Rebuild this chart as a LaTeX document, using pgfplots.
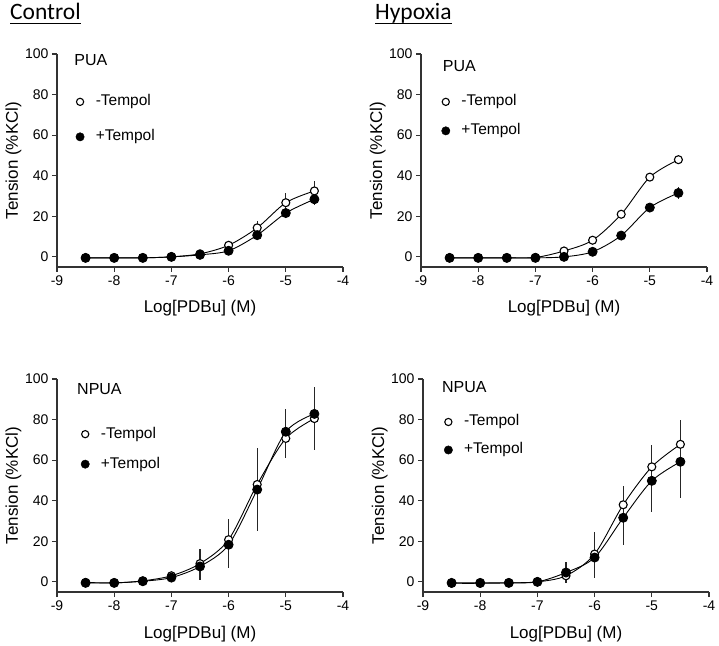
\documentclass[border=0pt]{standalone}
\usepackage{pgfplots}
\pgfplotsset{compat=1.18}
\usepackage{pgfplotstable}
\usepackage{fontspec}
\setmainfont{Liberation Sans}
\newfontfamily\titlefont{Carlito}

\pgfplotstableread{
x y e
-8.5 -0.5 0
-8 -0.5 0
-7.5 -0.5 0
-7 0 0
-6.5 1.5 0.8
-6 5.7 1.5
-5.5 14.3 3.5
-5 26.7 5
-4.5 32.5 5
}\cpo
\pgfplotstableread{
x y e
-8.5 -0.5 0
-8 -0.5 0
-7.5 -0.5 0
-7 0 0
-6.5 1.0 0.8
-6 3.0 1
-5.5 10.7 1.5
-5 21.6 2
-4.5 28.4 3
}\cpf
\pgfplotstableread{
x y e
-8.5 -0.5 0
-8 -0.5 0
-7.5 -0.5 0
-7 -0.3 0
-6.5 2.9 0.8
-6 8.2 1
-5.5 21.0 1.5
-5 39.3 1.5
-4.5 47.9 1.5
}\hpo
\pgfplotstableread{
x y e
-8.5 -0.5 0
-8 -0.5 0
-7.5 -0.5 0
-7 -0.5 0
-6.5 0 0.5
-6 2.5 0.8
-5.5 10.5 1.2
-5 24.3 1.5
-4.5 31.5 3
}\hpf
\pgfplotstableread{
x y e
-8.5 -0.3 0
-8 -0.5 0
-7.5 0.5 0.5
-7 3 1
-6.5 9 7
-6 20.8 10
-5.5 48 18
-5 70.7 9.7
-4.5 80.5 15.5
}\cno
\pgfplotstableread{
x y e
-8.5 -0.5 0
-8 -0.5 0
-7.5 0.3 0.5
-7 2.1 1
-6.5 7.6 6.8
-6 18.3 11.5
-5.5 45.5 20.5
-5 74 11
-4.5 82.8 13.5
}\cnf
\pgfplotstableread{
x y e
-8.5 -0.7 0
-8 -0.7 0
-7.5 -0.5 0
-7 0 0.5
-6.5 3 3
-6 13.7 11
-5.5 38 9.3
-5 56.7 10.6
-4.5 67.8 12
}\hno
\pgfplotstableread{
x y e
-8.5 -0.5 0
-8 -0.5 0
-7.5 -0.5 0
-7 0 0.5
-6.5 4.6 5
-6 12 10
-5.5 31.6 13.3
-5 49.8 15.6
-4.5 59.2 17.7
}\hnf

\pgfplotsset{
  panel/.style={
    scale only axis, width=286pt, height=213pt,
    xmin=-9, xmax=-4, ymin=-5, ymax=100,
    axis lines*=left,
    axis line style={-, line width=1.1pt, black!80},
    tick align=outside, major tick length=5pt,
    tick style={line width=1.1pt, black!80},
    xtick={-9,-8,-7,-6,-5,-4}, ytick={0,20,40,60,80,100},
    ticklabel style={font=\fontsize{14}{14}\selectfont},
    /pgf/number format/assume math mode=true,
    xlabel={Log[PDBu] (M)}, ylabel={Tension (\%KCl)},
    label style={font=\fontsize{17}{17}\selectfont},
    xlabel style={at={(axis description cs:0.5,0)}, anchor=base, yshift=-46pt},
    ylabel style={at={([xshift=-39pt]axis description cs:0,0.5)}, anchor=base},
    clip=false,
    legend style={draw=none, fill=none, inner sep=0pt, outer sep=0pt,
      font=\fontsize{15.5}{15.5}\selectfont, column sep=10pt,
      legend cell align=left,
      nodes={inner sep=1.5pt, text height=11pt, text depth=3pt}},
    legend image code/.code={\draw[mark repeat=2, mark phase=2, ##1] plot coordinates {(0pt,0pt)(4pt,0pt)(8pt,0pt)};},
  },
  openser/.style={black, line width=0.9pt, smooth, mark=*, mark size=4pt,
    mark options={fill=white, draw=black, line width=1.1pt},
    error bars/.cd, y dir=both, y explicit, error mark=none,
    error bar style={line width=1.2pt, black!85}, /pgfplots/.cd},
  fillser/.style={black, line width=0.9pt, smooth, mark=*, mark size=4.5pt,
    mark options={fill=black, draw=black},
    error bars/.cd, y dir=both, y explicit, error mark=none,
    error bar style={line width=1.2pt, black!85}, /pgfplots/.cd},
  legopen/.style={only marks, mark=*, mark size=3.6pt, mark options={fill=white, draw=black, line width=1.1pt}},
  legfill/.style={only marks, mark=*, mark size=4.2pt, mark options={fill=black, draw=black}},
}

\newcommand\ulbox[1]{\setbox0\hbox{#1}\rlap{\rule[-4.5pt]{\wd0}{1.4pt}}\box0}

\begin{document}
\begin{tikzpicture}
\useasboundingbox (0pt,0pt) rectangle (719pt,645pt);
\node[anchor=base west, inner sep=0pt, font=\titlefont\fontsize{23.5}{23.5}\selectfont] at (10pt,625pt) {\ulbox{Control}};
\node[anchor=base west, inner sep=0pt, font=\titlefont\fontsize{23.5}{23.5}\selectfont] at (375pt,625pt) {\ulbox{Hypoxia}};

% Control PUA
\begin{axis}[panel, at={(57pt,378pt)}, anchor=south west,
  legend style={at={(axis cs:-8.67,80.6)}, anchor=north west, row sep=18pt}]
\addlegendimage{legopen}\addlegendentry{-Tempol}
\addlegendimage{legfill}\addlegendentry{+Tempol}
\addplot[forget plot, openser] table[x=x, y=y, y error=e] {\cpo};
\addplot[forget plot, fillser] table[x=x, y=y, y error=e] {\cpf};
\node[anchor=base west, inner sep=0pt, font=\fontsize{16}{16}\selectfont] at (axis cs:-8.70,94.5) {PUA};
\end{axis}

% Hypoxia PUA
\begin{axis}[panel, at={(421pt,378pt)}, anchor=south west,
  legend style={at={(axis cs:-8.64,80.6)}, anchor=north west, row sep=12pt}]
\addlegendimage{legopen}\addlegendentry{-Tempol}
\addlegendimage{legfill}\addlegendentry{+Tempol}
\addplot[forget plot, openser] table[x=x, y=y, y error=e] {\hpo};
\addplot[forget plot, fillser] table[x=x, y=y, y error=e] {\hpf};
\node[anchor=base west, inner sep=0pt, font=\fontsize{16}{16}\selectfont] at (axis cs:-8.62,91.5) {PUA};
\end{axis}

% Control NPUA
\begin{axis}[panel, at={(57pt,53pt)}, anchor=south west,
  legend style={at={(axis cs:-8.58,77)}, anchor=north west, row sep=13pt}]
\addlegendimage{legopen}\addlegendentry{-Tempol}
\addlegendimage{legfill}\addlegendentry{+Tempol}
\addplot[forget plot, openser] table[x=x, y=y, y error=e] {\cno};
\addplot[forget plot, fillser] table[x=x, y=y, y error=e] {\cnf};
\node[anchor=base west, inner sep=0pt, font=\fontsize{16}{16}\selectfont] at (axis cs:-8.65,92.5) {NPUA};
\end{axis}

% Hypoxia NPUA
\begin{axis}[panel, at={(423pt,53pt)}, anchor=south west,
  legend style={at={(axis cs:-8.63,83)}, anchor=north west, row sep=11pt}]
\addlegendimage{legopen}\addlegendentry{-Tempol}
\addlegendimage{legfill}\addlegendentry{+Tempol}
\addplot[forget plot, openser] table[x=x, y=y, y error=e] {\hno};
\addplot[forget plot, fillser] table[x=x, y=y, y error=e] {\hnf};
\node[anchor=base west, inner sep=0pt, font=\fontsize{16}{16}\selectfont] at (axis cs:-8.67,93.5) {NPUA};
\end{axis}
\end{tikzpicture}
\end{document}
